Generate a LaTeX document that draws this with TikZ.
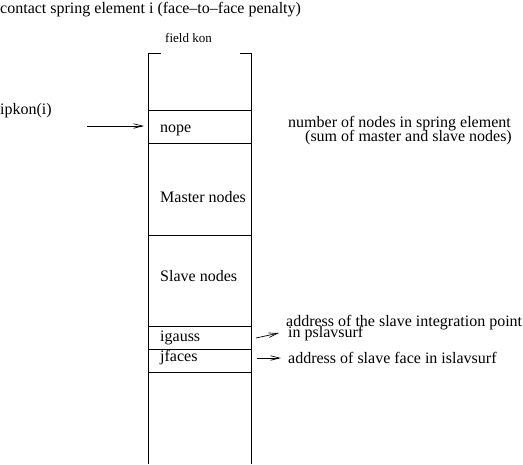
\documentclass[tikz,border=0pt]{standalone}
\usepackage{fontspec}
\setmainfont{Liberation Serif}
\usetikzlibrary{arrows.meta}
\begin{document}
\begin{tikzpicture}[x=1pt,y=-1pt,
  lbl/.style={anchor=base west, inner sep=0pt, font=\fontsize{16}{18}\selectfont},
  rlbl/.style={anchor=base east, inner sep=0pt, font=\fontsize{16}{18}\selectfont},
  small/.style={anchor=base west, inner sep=0pt, font=\fontsize{13}{15}\selectfont},
  wall/.style={line width=0.8pt},
  arr/.style={line width=0.7pt, -{Straight Barb[length=9pt,width=4.5pt]}}]
\useasboundingbox (0,0) rectangle (523,464);
% column
\draw[wall] (161,53) -- (148,53) -- (148,464);
\draw[wall] (240,53) -- (251,53) -- (251,464);
\foreach \yy in {110,143,235,326,349,372}
  \draw[wall] (148,\yy) -- (251,\yy);
% texts
\node[lbl] (title) at (0,13.5) {contact spring element i (face--to--face penalty)};
\node[small] (field) at (165,42.5) {field kon};
\node[lbl] (ipkon) at (0,114) {ipkon(i)};
\node[lbl] (nope) at (160,132) {nope};
\node[lbl] (master) at (160,202) {Master nodes};
\node[lbl] (slave) at (160,281.5) {Slave nodes};
\node[lbl] (igauss) at (160,341) {igauss};
\node[lbl] (jfaces) at (160,361) {jfaces};
\node[lbl] (num) at (288,127.5) {number of nodes in spring element};
\node[rlbl] (sum) at (512,141) {(sum of master and slave nodes)};
\node[lbl] (addr) at (286,326) {address of the slave integration point};
\node[lbl] (inps) at (288,337) {in pslavsurf};
\node[lbl] (addrf) at (288,363) {address of slave face in islavsurf};
% arrows
\coordinate (a1s) at (87,126);
\coordinate (a1e) at (144,126);
\coordinate (a2s) at (256,338);
\coordinate (a2e) at (279,333);
\coordinate (a3s) at (257,358);
\coordinate (a3e) at (281,358);
\draw[arr] (a1s) -- (a1e);
\draw[arr] (a2s) -- (a2e);
\draw[arr] (a3s) -- (a3e);
\end{tikzpicture}
\end{document}
